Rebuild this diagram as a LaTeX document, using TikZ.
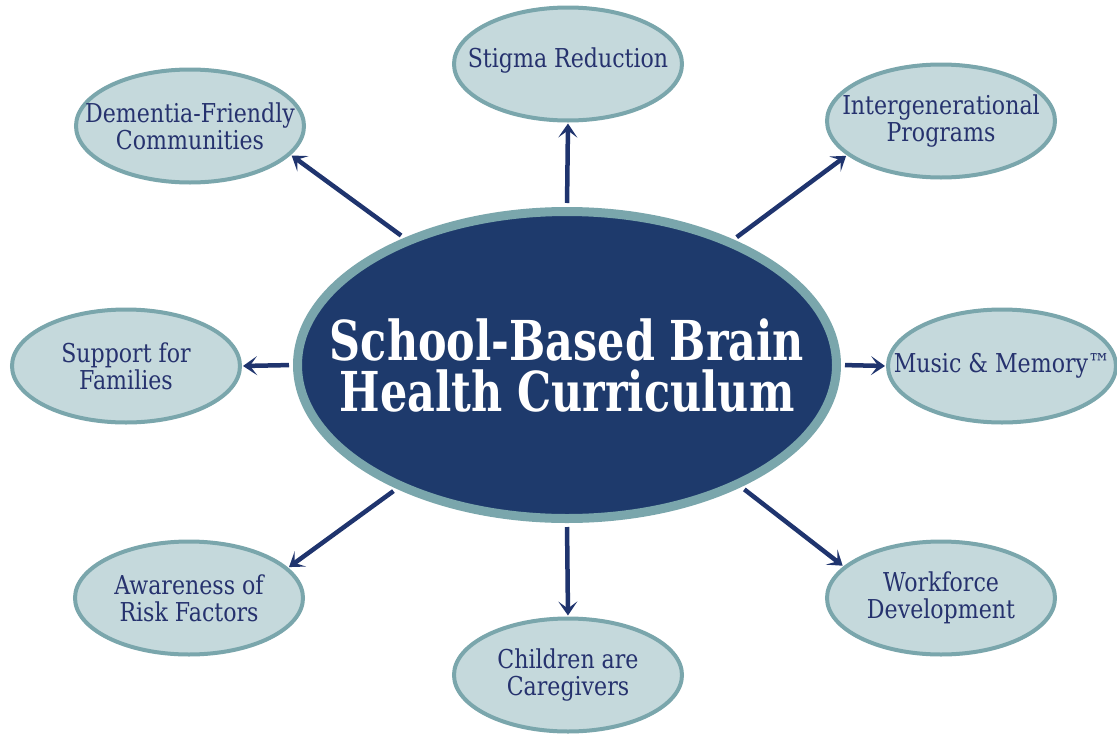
\documentclass[tikz,border=0pt]{standalone}
\usepackage{fontspec}
\usetikzlibrary{shapes.geometric,arrows.meta}
\newfontfamily\leaffont{DejaVu Serif}[FakeStretch=0.85]
\newfontfamily\hubfont{DejaVu Serif}[FakeStretch=0.78]
\definecolor{hubnavy}{HTML}{1E3A6C}
\definecolor{rimteal}{HTML}{7AA6AC}
\definecolor{leaffill}{HTML}{C5D9DC}
\definecolor{leaftext}{HTML}{26326E}
\definecolor{arrownavy}{HTML}{1F346E}
\tikzset{
  hub/.style={ellipse, draw=rimteal, line width=9pt, fill=hubnavy,
    minimum width=539pt, minimum height=307pt, inner sep=0pt},
  hubtext/.style={text=white, align=center, inner sep=0pt,
    font=\hubfont\bfseries\fontsize{55}{51}\selectfont},
  leaf/.style={ellipse, draw=rimteal, line width=4pt, fill=leaffill,
    minimum width=228pt, minimum height=113pt, inner sep=0pt},
  leaftxt/.style={text=leaftext, align=center, inner sep=0pt,
    font=\leaffont\fontsize{26}{27}\selectfont},
  link/.style={draw=arrownavy, line width=4.5pt,
    -{Stealth[length=14pt,width=19pt,inset=7pt]},
    shorten <=4pt, shorten >=1pt}
}
\begin{document}
\begin{tikzpicture}[x=1pt,y=-1pt]
  \fill[white] (0,0) rectangle (1117,734);
  \useasboundingbox (0,0) rectangle (1117,734);

  % central topic
  \node[hub] (hub) at (567,365) {};
  \node[hubtext] (hubt) at (hub.center) {School-Based Brain\\Health Curriculum};

  % surrounding topics: rims first, then their captions
  \node[leaf] (stigma)    at (568,64)   {};
  \node[leaf] (dementia)  at (190,126)  {};
  \node[leaf] (intergen)  at (941,121)  {};
  \node[leaf] (support)   at (126,366)  {};
  \node[leaf] (music)     at (1002,366) {};
  \node[leaf] (risk)      at (189,598)  {};
  \node[leaf] (workforce) at (941,598)  {};
  \node[leaf] (children)  at (568,675)  {};

  \node[leaftxt] (stigmat)    at ([yshift=3pt]stigma.center)  {Stigma Reduction};
  \node[leaftxt] (dementiat)  at (dementia.center)  {Dementia-Friendly\\Communities};
  \node[leaftxt] (intergent)  at (intergen.center)  {Intergenerational\\Programs};
  \node[leaftxt] (supportt)   at (support.center)   {Support for\\Families};
  \node[leaftxt] (musict)     at (music.center)     {Music \& Memory™};
  \node[leaftxt] (riskt)      at (risk.center)      {Awareness of\\Risk Factors};
  \node[leaftxt] (workforcet) at (workforce.center) {Workforce\\Development};
  \node[leaftxt] (childrent)  at (children.center)  {Children are\\Caregivers};

  % connectors from the hub outward
  \draw[link] (hub.90)    -- (stigma.-90);
  \draw[link] (hub.142.5) -- (dementia.-16.6);
  \draw[link] (hub.37.6)  -- (intergen.-160.5);
  \draw[link] (hub.180)   -- (support.0);
  \draw[link] (hub.0)     -- (music.180);
  \draw[link] (hub.-144)  -- (risk.17);
  \draw[link] (hub.-35.9) -- (workforce.162);
  \draw[link] (hub.-90)   -- (children.90);
\end{tikzpicture}
\end{document}
